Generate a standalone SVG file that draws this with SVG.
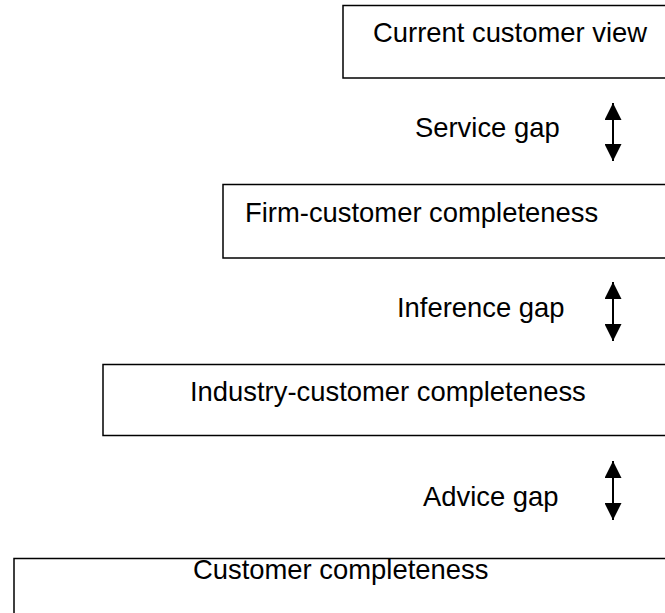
<svg xmlns="http://www.w3.org/2000/svg" width="665" height="613" viewBox="0 0 665 613">
<defs>
<style>
.box{fill:#fff;stroke:#000;stroke-width:1.5}
.t{font-family:"Liberation Sans",Arial,sans-serif;font-size:27.4px;fill:#000}
.ln{stroke:#000;stroke-width:2;fill:none}
</style>
<marker id="ah" viewBox="0 0 17 17" refX="17" refY="8.5" markerWidth="17" markerHeight="17" markerUnits="userSpaceOnUse" orient="auto-start-reverse"><path d="M0,0 L17,8.5 L0,17 Z" fill="#000"/></marker>
</defs>
<rect width="665" height="613" fill="#fff"/>
<g id="n1"><rect class="box" x="343" y="5.5" width="340" height="72.5"/><text class="t" x="373" y="42">Current customer view</text></g>
<g id="n2"><rect class="box" x="223" y="184.5" width="460" height="73.5"/><text class="t" x="245" y="222">Firm-customer completeness</text></g>
<g id="n3"><rect class="box" x="103" y="364.5" width="580" height="71"/><text class="t" x="190" y="401">Industry-customer completeness</text></g>
<g id="n4"><rect class="box" x="14" y="558.5" width="680" height="80"/><text class="t" x="193" y="579">Customer completeness</text></g>
<g id="labels">
<text class="t" x="415" y="137">Service gap</text>
<text class="t" x="397" y="317">Inference gap</text>
<text class="t" x="423" y="506">Advice gap</text>
</g>
<g id="connectors">
<line class="ln" x1="613" y1="103" x2="613" y2="161" marker-start="url(#ah)" marker-end="url(#ah)"/>
<line class="ln" x1="613" y1="282" x2="613" y2="341" marker-start="url(#ah)" marker-end="url(#ah)"/>
<line class="ln" x1="613" y1="461" x2="613" y2="520" marker-start="url(#ah)" marker-end="url(#ah)"/>
</g>
</svg>
